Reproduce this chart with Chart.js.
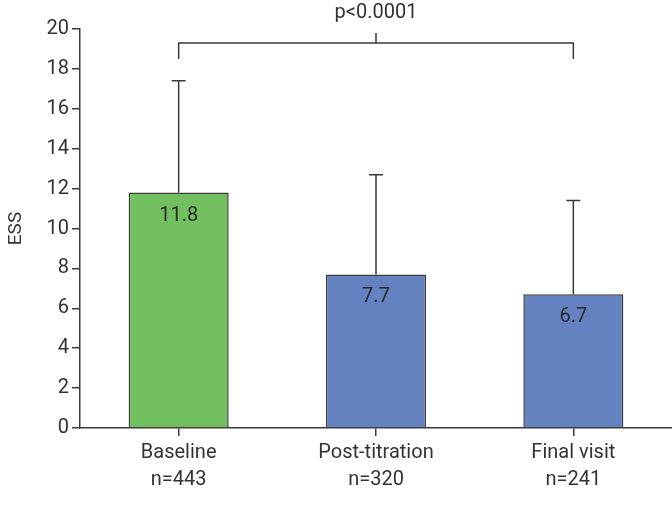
<!DOCTYPE html>
<html>
<head>
<meta charset="utf-8">
<script src="https://cdn.jsdelivr.net/npm/chart.js@4"></script>
<style>
  body { margin: 0; background: #fff; }
  #wrap { width: 672px; height: 514px; }
</style>
</head>
<body>
<div id="wrap"><canvas id="chart"></canvas></div>
<script>
const categories = ['Baseline', 'Post-titration', 'Final visit'];
const sampleSizes = ['n=443', 'n=320', 'n=241'];
const meanESS = [11.8, 7.7, 6.7];
const upperSD = [17.4, 12.7, 11.4];
const barColors = ['#71bf5f', '#6481c0', '#6481c0'];
const pValueText = 'p<0.0001';

// comparison bracket between first and last group
const bracketLevel = 19.3;
const bracketFoot = 18.5;
const bracketMid = 19.8;

const FONT = 'Roboto, "DejaVu Sans", sans-serif';
const INK = '#3a3a3a';

const overlay = {
  id: 'overlay',
  afterDatasetsDraw(chart) {
    const ctx = chart.ctx;
    const y = chart.scales.y;
    const bars = chart.getDatasetMeta(0).data;
    ctx.save();
    ctx.strokeStyle = INK;
    ctx.lineWidth = 1.5;

    // error bars (upper only)
    bars.forEach((bar, i) => {
      const top = y.getPixelForValue(upperSD[i]);
      ctx.beginPath();
      ctx.moveTo(bar.x, bar.y);
      ctx.lineTo(bar.x, top);
      ctx.moveTo(bar.x - 7, top);
      ctx.lineTo(bar.x + 7, top);
      ctx.stroke();
    });

    // value labels inside bars
    ctx.fillStyle = '#2a2a2a';
    ctx.font = '20px ' + FONT;
    ctx.textAlign = 'center';
    ctx.textBaseline = 'middle';
    bars.forEach((bar, i) => {
      ctx.fillText(meanESS[i].toFixed(1), bar.x, bar.y + 23);
    });

    // significance bracket
    const x0 = bars[0].x, x1 = bars[bars.length - 1].x;
    const xm = bars[1].x;
    const yl = y.getPixelForValue(bracketLevel);
    ctx.beginPath();
    ctx.moveTo(x0, y.getPixelForValue(bracketFoot));
    ctx.lineTo(x0, yl);
    ctx.lineTo(x1, yl);
    ctx.lineTo(x1, y.getPixelForValue(bracketFoot));
    ctx.moveTo(xm, yl);
    ctx.lineTo(xm, y.getPixelForValue(bracketMid));
    ctx.stroke();

    ctx.fillStyle = '#333';
    ctx.textBaseline = 'alphabetic';
    ctx.fillText(pValueText, xm, 18);
    ctx.restore();
  }
};

new Chart(document.getElementById('chart').getContext('2d'), {
  type: 'bar',
  data: {
    labels: categories.map((c, i) => [c, sampleSizes[i]]),
    datasets: [{
      data: meanESS,
      backgroundColor: barColors,
      borderColor: INK,
      borderWidth: 1.5,
      barPercentage: 0.507,
      categoryPercentage: 1
    }]
  },
  options: {
    responsive: true,
    maintainAspectRatio: false,
    animation: false,
    layout: { padding: { top: 29, right: 0, left: 0, bottom: 0 } },
    plugins: {
      legend: { display: false },
      tooltip: { enabled: false }
    },
    scales: {
      x: {
        afterFit: s => { s.height = 86; },
        grid: {
          offset: false,
          drawOnChartArea: false,
          tickLength: 8,
          color: INK,
          lineWidth: 1.5
        },
        border: { color: INK, width: 1.5 },
        ticks: {
          color: '#333',
          padding: 3,
          font: { family: FONT, size: 20, lineHeight: 1.35 }
        }
      },
      y: {
        min: 0,
        max: 20,
        afterFit: s => { s.width = 80; },
        grid: {
          drawOnChartArea: false,
          tickLength: 8,
          color: INK,
          lineWidth: 1.5
        },
        border: { color: INK, width: 1.5 },
        ticks: {
          stepSize: 2,
          color: '#333',
          padding: 3,
          font: { family: FONT, size: 20 }
        },
        title: {
          display: true,
          text: 'ESS',
          color: '#333',
          padding: { top: 5, bottom: 0 },
          font: { family: FONT, size: 19 }
        }
      }
    }
  },
  plugins: [overlay]
});
</script>
</body>
</html>
